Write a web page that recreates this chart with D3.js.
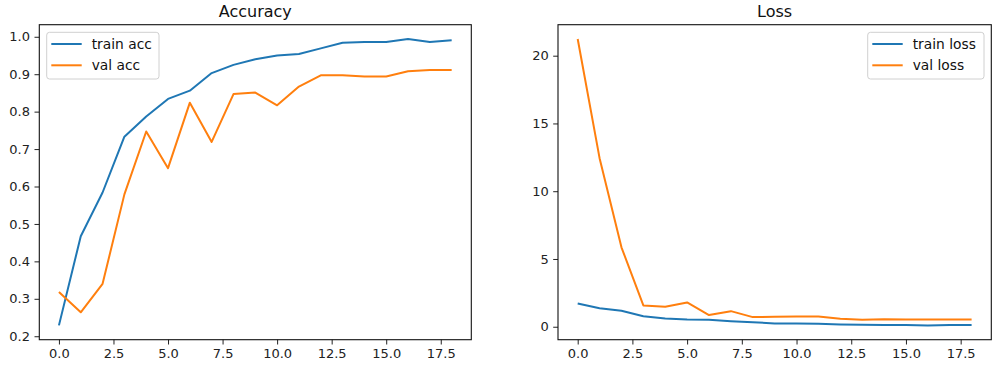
<!DOCTYPE html>
<meta charset="utf-8">
<head>
  <style>
    body { margin: 0; background: #fff; font-family: "DejaVu Sans", sans-serif; }
    .axis text { font-family: "DejaVu Sans", sans-serif; font-size: 13px; fill: #222; }
    .axis line { stroke: #222; stroke-width: 1; }
    .axis path { display: none; }
  </style>
  <script src="https://d3js.org/d3.v7.min.js"></script>
</head>
<body>
<div id="chart"></div>
<script>
  // *** values
  var epochs = d3.range(0, 19);
  var trainAcc = [0.229, 0.467, 0.584, 0.733, 0.787, 0.834, 0.856, 0.903, 0.925, 0.940,
                  0.950, 0.954, 0.969, 0.984, 0.986, 0.986, 0.994, 0.986, 0.991];
  var valAcc = [0.318, 0.264, 0.340, 0.579, 0.747, 0.649, 0.824, 0.719, 0.847, 0.851,
                0.817, 0.867, 0.897, 0.897, 0.894, 0.894, 0.908, 0.911, 0.911];
  var trainLoss = [1.72, 1.37, 1.18, 0.78, 0.61, 0.54, 0.51, 0.41, 0.34, 0.24,
                   0.24, 0.22, 0.17, 0.15, 0.12, 0.12, 0.10, 0.12, 0.12];
  var valLoss = [21.23, 12.44, 5.86, 1.57, 1.47, 1.79, 0.86, 1.15, 0.71, 0.73,
                 0.76, 0.76, 0.59, 0.51, 0.56, 0.54, 0.54, 0.54, 0.54];

  var epochTicks = [0, 2.5, 5, 7.5, 10, 12.5, 15, 17.5];
  var accTicks = [0.2, 0.3, 0.4, 0.5, 0.6, 0.7, 0.8, 0.9, 1.0];
  var lossTicks = [0, 5, 10, 15, 20];

  var colors = ["#1f77b4", "#ff7f0e"];

  var svg = d3.select("#chart").append("svg")
    .attr("width", 996)
    .attr("height", 365);

  // matplotlib style 5% padding around the data
  function padded(values) {
    var ext = d3.extent(values);
    var m = (ext[1] - ext[0]) * 0.05;
    return [ext[0] - m, ext[1] + m];
  }

  function drawPanel(opts) {
    var g = svg.append("g")
      .attr("transform", "translate(" + opts.left + "," + opts.top + ")");

    var x = d3.scaleLinear()
      .domain(padded(epochs))
      .range([0, opts.width]);

    var y = d3.scaleLinear()
      .domain(padded(opts.series[0].values.concat(opts.series[1].values)))
      .range([opts.height, 0]);

    g.append("g")
      .attr("class", "axis")
      .attr("transform", "translate(0," + opts.height + ")")
      .call(d3.axisBottom(x).tickValues(epochTicks).tickFormat(d3.format(".1f"))
        .tickSize(4.8).tickPadding(4.5));

    g.append("g")
      .attr("class", "axis")
      .call(d3.axisLeft(y).tickValues(opts.yTicks).tickFormat(opts.yFormat)
        .tickSize(4.8).tickPadding(4.5));

    var line = d3.line()
      .x(function(d, i) { return x(epochs[i]); })
      .y(function(d) { return y(d); });

    opts.series.forEach(function(s, i) {
      g.append("path")
        .datum(s.values)
        .attr("fill", "none")
        .attr("stroke", colors[i])
        .attr("stroke-width", 2)
        .attr("stroke-linejoin", "round")
        .attr("d", line);
    });

    // spines
    g.append("rect")
      .attr("width", opts.width)
      .attr("height", opts.height)
      .attr("fill", "none")
      .attr("stroke", "#111")
      .attr("stroke-width", 1.1);

    g.append("text")
      .attr("x", opts.width / 2)
      .attr("y", -8)
      .attr("text-anchor", "middle")
      .style("font-size", "16px")
      .style("fill", "#111")
      .text(opts.title);

    // legend
    var lg = g.append("g")
      .attr("transform", "translate(" + opts.legendX + ",7.6)");
    lg.append("rect")
      .attr("width", opts.legendW)
      .attr("height", 46.7)
      .attr("rx", 2.8)
      .attr("fill", "#fff")
      .attr("fill-opacity", 0.8)
      .attr("stroke", "#d0d0d0");
    opts.series.forEach(function(s, i) {
      var yy = 11.7 + i * 21.3;
      lg.append("line")
        .attr("x1", 4.6).attr("x2", 35)
        .attr("y1", yy).attr("y2", yy)
        .attr("stroke", colors[i])
        .attr("stroke-width", 2);
      lg.append("text")
        .attr("x", 45)
        .attr("y", yy)
        .attr("dy", "0.35em")
        .style("font-size", "13.8px")
        .style("fill", "#111")
        .text(s.name);
    });
  }

  drawPanel({
    left: 39.3, top: 24.7, width: 432, height: 315,
    title: "Accuracy",
    yTicks: accTicks, yFormat: d3.format(".1f"),
    legendX: 7.4, legendW: 112.3,
    series: [{ name: "train acc", values: trainAcc }, { name: "val acc", values: valAcc }]
  });

  drawPanel({
    left: 558, top: 24.7, width: 433.3, height: 315,
    title: "Loss",
    yTicks: lossTicks, yFormat: d3.format("d"),
    legendX: 309.7, legendW: 116.3,
    series: [{ name: "train loss", values: trainLoss }, { name: "val loss", values: valLoss }]
  });
</script>
</body>
